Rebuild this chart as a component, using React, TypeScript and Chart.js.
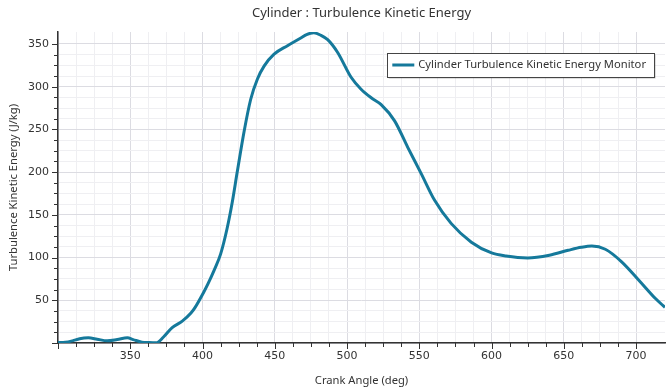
import { useEffect, useRef } from "react";
import { Chart, registerables } from "chart.js";

Chart.register(...registerables);

const crankAngle = [
  300, 305, 310, 315, 321, 327, 334, 341, 348, 352, 358, 363, 368, 373, 379, 386,
  392, 395, 401, 404, 408, 412.5, 417, 420.6, 424, 428.7, 433.3, 438, 442.6, 449.5,
  458.8, 468, 472, 477, 482, 486.6, 493.5, 502.8, 509.7, 516.7, 523.6, 532.9, 542,
  551.4, 560.6, 572, 586, 600, 610, 625, 640, 653, 662, 669.4, 678.7, 690,
  701.9, 713.4, 720,
];
const tkeValues = [
  0.5, 0.8, 2.5, 5, 6, 4.5, 2.5, 4, 6, 4, 1, 0.5, 0.3, 7, 18, 25.6,
  35, 42, 60, 70, 85, 104, 134, 165, 200, 247, 285, 309, 324, 338,
  348, 357, 361, 363, 360, 355, 340, 311, 297, 287, 279, 260, 229,
  198, 167, 140, 118, 105.4, 101.8, 99.6, 102.8, 108.5, 112, 113.5, 109.7, 95,
  73.5, 52, 41.7,
];

const chartTitle = "Cylinder : Turbulence Kinetic Energy";
const seriesLabel = "Cylinder Turbulence Kinetic Energy Monitor";
const xTitle = "Crank Angle (deg)";
const yTitle = "Turbulence Kinetic Energy (J/kg)";

const LINE_COLOR = "#15799b";
const TEXT_COLOR = "#333333";

const isMult = (v: number, m: number) => Math.abs(v / m - Math.round(v / m)) < 1e-6;

const tickMarksPlugin = {
  id: "tickMarks",
  afterDraw(chart: any) {
    const ctx = chart.ctx;
    const xs = chart.scales.x;
    const ys = chart.scales.y;
    ctx.save();
    ctx.strokeStyle = TEXT_COLOR;
    ctx.lineWidth = 1;
    ctx.beginPath();
    xs.ticks.forEach((t: any) => {
      if (!isMult(t.value, 12.5)) return;
      const px = Math.round(xs.getPixelForValue(t.value)) + 0.5;
      const len = isMult(t.value, 50) ? 6 : 4;
      ctx.moveTo(px, xs.top);
      ctx.lineTo(px, xs.top + len);
    });
    ys.ticks.forEach((t: any) => {
      if (!isMult(t.value, 12.5)) return;
      const py = Math.round(ys.getPixelForValue(t.value)) + 0.5;
      const len = isMult(t.value, 50) ? 6 : 4;
      ctx.moveTo(ys.right, py);
      ctx.lineTo(ys.right - len, py);
    });
    ctx.stroke();
    ctx.restore();
  },
};

const boxLegendPlugin = {
  id: "boxLegend",
  afterDraw(chart: any) {
    const ctx = chart.ctx;
    const area = chart.chartArea;
    ctx.save();
    ctx.font = "11.2px 'Noto Sans'";
    const tw = ctx.measureText(seriesLabel).width;
    const w = 5 + 22 + 4 + tw + 8;
    const h = 24;
    const right = area.right - 11;
    const left = right - w;
    const top = area.top + 21;
    ctx.fillStyle = "rgba(0,0,0,0.25)";
    ctx.fillRect(left + 1.5, top + 1.5, w, h);
    ctx.fillStyle = "#ffffff";
    ctx.fillRect(left, top, w, h);
    ctx.strokeStyle = "#444444";
    ctx.lineWidth = 1;
    ctx.strokeRect(Math.round(left) + 0.5, Math.round(top) + 0.5, Math.round(w), h);
    ctx.strokeStyle = LINE_COLOR;
    ctx.lineWidth = 3;
    ctx.beginPath();
    ctx.moveTo(left + 5, top + h / 2);
    ctx.lineTo(left + 27, top + h / 2);
    ctx.stroke();
    ctx.fillStyle = TEXT_COLOR;
    ctx.textBaseline = "middle";
    ctx.textAlign = "left";
    ctx.fillText(seriesLabel, left + 31, top + h / 2);
    ctx.restore();
  },
};

export default function App() {
  const ref = useRef<HTMLCanvasElement>(null);
  useEffect(() => {
    if (!ref.current) return;
    const gridColor = (ctx: any) => {
      const v = ctx.tick ? ctx.tick.value : 0;
      if (!isMult(v, 12.5)) return "rgba(0,0,0,0)";
      return isMult(v, 50) ? "#dcdce2" : "#efeff2";
    };
    const chart = new Chart(ref.current, {
      type: "line",
      data: {
        datasets: [
          {
            label: seriesLabel,
            data: crankAngle.map((x, i) => ({ x, y: tkeValues[i] })),
            borderColor: LINE_COLOR,
            backgroundColor: LINE_COLOR,
            borderWidth: 3,
            pointRadius: 0,
            cubicInterpolationMode: "monotone",
            fill: false,
          },
        ],
      },
      options: {
        animation: false,
        responsive: true,
        maintainAspectRatio: false,
        layout: { padding: { left: 0, right: 2, top: 0, bottom: 0 } },
        plugins: {
          legend: { display: false },
          tooltip: { enabled: false },
          title: {
            display: true,
            text: chartTitle,
            fullSize: false,
            color: TEXT_COLOR,
            font: { family: "'Noto Sans'", size: 13, weight: "normal" },
            padding: { top: 5, bottom: 11.4 },
          },
        },
        scales: {
          x: {
            type: "linear",
            min: 300,
            max: 720,
            afterFit: (s: any) => {
              s.height = 48;
              s.paddingLeft = 0;
              s.paddingRight = 0;
            },
            ticks: {
              stepSize: 12.5,
              autoSkip: false,
              maxRotation: 0,
              padding: 7,
              color: TEXT_COLOR,
              font: { family: "'DejaVu Sans'", size: 11 },
              callback: (v: any) => (isMult(v, 50) && v !== 300 ? String(v) : ""),
            },
            grid: { color: gridColor, drawTicks: false, lineWidth: 1 },
            border: { display: true, color: TEXT_COLOR, width: 1.5 },
            title: {
              display: true,
              text: xTitle,
              color: TEXT_COLOR,
              font: { family: "'Noto Sans'", size: 11.2 },
              padding: { top: 0, bottom: 3 },
            },
          },
          y: {
            type: "linear",
            min: 0,
            max: 364,
            afterFit: (s: any) => {
              s.width = 58;
              s.paddingTop = 0;
              s.paddingBottom = 0;
            },
            ticks: {
              stepSize: 12.5,
              autoSkip: false,
              padding: 9,
              color: TEXT_COLOR,
              font: { family: "'DejaVu Sans'", size: 11 },
              callback: (v: any) => (isMult(v, 50) && v !== 0 ? String(v) : ""),
            },
            grid: { color: gridColor, drawTicks: false, lineWidth: 1 },
            border: { display: true, color: TEXT_COLOR, width: 1.5 },
            title: {
              display: true,
              text: yTitle,
              color: TEXT_COLOR,
              font: { family: "'Noto Sans'", size: 11.2 },
              padding: { top: 7, bottom: 0 },
            },
          },
        },
      },
      plugins: [tickMarksPlugin, boxLegendPlugin],
    });
    return () => chart.destroy();
  }, []);
  return (
    <div style={{ position: "fixed", left: 0, top: 0, width: 667, height: 391, background: "#ffffff" }}>
      <canvas ref={ref} />
    </div>
  );
}
